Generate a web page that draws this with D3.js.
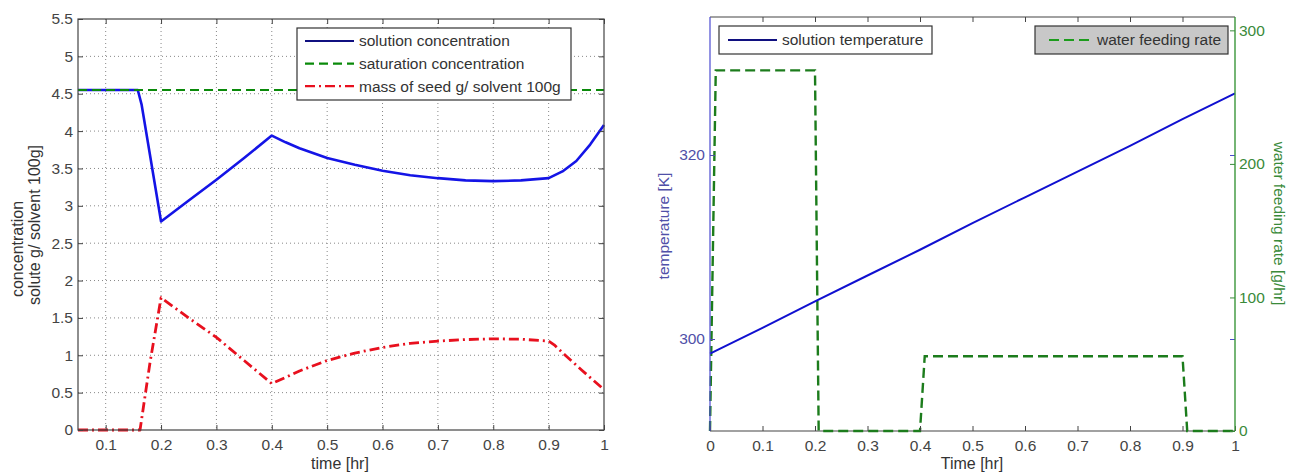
<!DOCTYPE html>
<html><head><meta charset="utf-8">
<script src="https://cdn.jsdelivr.net/npm/d3@7"></script>
<style>
body{margin:0;background:#fff}
text{font-family:"Liberation Sans",Arial,sans-serif}
</style>
</head><body>
<svg id="c" width="1290" height="473"></svg>
<script>
// ---------- Data: left chart ----------
const leftXTicks = [0.1,0.2,0.3,0.4,0.5,0.6,0.7,0.8,0.9,1];
const leftYTicks = [0,0.5,1,1.5,2,2.5,3,3.5,4,4.5,5,5.5];
const concTime   = [0.05,0.1,0.158,0.165,0.2,0.25,0.3,0.35,0.4,0.425,0.45,0.5,0.55,0.6,0.65,0.7,0.75,0.8,0.85,0.9,0.925,0.95,0.975,1.0];
const solutionConc = [4.55,4.55,4.55,4.35,2.79,3.07,3.35,3.64,3.94,3.85,3.77,3.64,3.55,3.47,3.41,3.37,3.34,3.33,3.34,3.37,3.46,3.6,3.82,4.08];
const satTime = [0.05,1.0];
const saturationConc = [4.55,4.55];
const seedTime = [0.05,0.1,0.162,0.18,0.2,0.25,0.3,0.35,0.4,0.45,0.5,0.55,0.6,0.65,0.7,0.75,0.8,0.85,0.9,0.91,0.93,0.96,1.0];
const seedMass = [0,0,0,0.9,1.77,1.5,1.24,0.93,0.62,0.79,0.93,1.03,1.105,1.16,1.19,1.21,1.22,1.215,1.19,1.14,1.0,0.8,0.54];
const leftLegend = ["solution concentration","saturation concentration","mass of seed g/ solvent 100g"];

// ---------- Data: right chart ----------
const rightXTicks = [0,0.1,0.2,0.3,0.4,0.5,0.6,0.7,0.8,0.9,1];
const tempTicks = [300,320];
const rateTicks = [0,100,200,300];
const tempTime = [0,0.1,0.2,0.3,0.4,0.5,0.6,0.7,0.8,0.9,1.0];
const temperature = [298.4,301.2,304.1,306.9,309.7,312.6,315.4,318.2,321.0,323.9,326.7];
const waterTime = [0,0.011,0.2,0.207,0.4,0.409,0.9,0.909,1.0];
const waterRate = [0,270,270,0,0,56,56,0,0];

const svg = d3.select('#c');
svg.append('rect').attr('width',1290).attr('height',473).attr('fill','#fff');
const FONT = 15.5;
const txtCol = '#444';

function styleAxis(g, col){
  g.select('.domain').remove();
  g.selectAll('.tick line').attr('stroke', col || '#444');
  g.selectAll('.tick text').attr('font-size',FONT).attr('fill', col || txtCol)
    .attr('font-family','"Liberation Sans",Arial,sans-serif');
}

// ================= LEFT CHART =================
const L = {x0:78, x1:604, y0:19, y1:430};
const xL = d3.scaleLinear().domain([0.05,1]).range([L.x0,L.x1]);
const yL = d3.scaleLinear().domain([0,5.5]).range([L.y1,L.y0]);

const gGrid = svg.append('g').attr('stroke','#888').attr('stroke-width',1).attr('stroke-dasharray','1,3');
leftXTicks.filter(d=>d<1).forEach(d=>{
  gGrid.append('line').attr('x1',xL(d)).attr('x2',xL(d)).attr('y1',L.y0).attr('y2',L.y1);
});
leftYTicks.filter(d=>d>0 && d<5.5).forEach(d=>{
  gGrid.append('line').attr('y1',yL(d)).attr('y2',yL(d)).attr('x1',L.x0).attr('x2',L.x1);
});

const lineL = d3.line().x(d=>xL(d[0])).y(d=>yL(d[1]));
svg.append('path').datum(concTime.map((t,i)=>[t,solutionConc[i]]))
  .attr('d',lineL).attr('fill','none').attr('stroke','#1414e6').attr('stroke-width',2.6).attr('stroke-linejoin','round');
svg.append('path').datum(satTime.map((t,i)=>[t,saturationConc[i]]))
  .attr('d',lineL).attr('fill','none').attr('stroke','#0a8a0a').attr('stroke-width',2.2).attr('stroke-dasharray','9,5');
svg.append('path').datum(seedTime.map((t,i)=>[t,seedMass[i]]))
  .attr('d',lineL).attr('fill','none').attr('stroke','#e8101e').attr('stroke-width',2.8).attr('stroke-dasharray','10,4,2,4').attr('stroke-linejoin','round');

svg.append('g').attr('transform',`translate(0,${L.y1})`)
  .call(d3.axisBottom(xL).tickValues(leftXTicks).tickFormat(d=>String(d)).tickSize(-5).tickSizeOuter(0).tickPadding(9))
  .call(g=>styleAxis(g));
svg.append('g').attr('transform',`translate(0,${L.y0})`)
  .call(d3.axisTop(xL).tickValues(leftXTicks).tickFormat('').tickSize(-5).tickSizeOuter(0))
  .call(g=>styleAxis(g));
svg.append('g').attr('transform',`translate(${L.x0},0)`)
  .call(d3.axisLeft(yL).tickValues(leftYTicks).tickFormat(d=>String(d)).tickSize(-5).tickSizeOuter(0).tickPadding(5))
  .call(g=>styleAxis(g));
svg.append('g').attr('transform',`translate(${L.x1},0)`)
  .call(d3.axisRight(yL).tickValues(leftYTicks).tickFormat('').tickSize(-5).tickSizeOuter(0))
  .call(g=>styleAxis(g));
svg.append('rect').attr('x',L.x0).attr('y',L.y0).attr('width',L.x1-L.x0).attr('height',L.y1-L.y0)
  .attr('fill','none').attr('stroke','#444').attr('stroke-width',1.2);

const lg = svg.append('g');
lg.append('rect').attr('x',297).attr('y',28).attr('width',274).attr('height',72)
  .attr('fill','#fff').attr('stroke','#333').attr('stroke-width',1.2);
const legStyles = [
  {c:'#101080', w:2.2, da:null},
  {c:'#0a8a0a', w:2.2, da:'9,5'},
  {c:'#e8101e', w:2.2, da:'10,4,2,4'}
];
leftLegend.forEach((t,i)=>{
  const y = 41 + i*22.6;
  lg.append('line').attr('x1',305).attr('x2',354).attr('y1',y).attr('y2',y)
    .attr('stroke',legStyles[i].c).attr('stroke-width',legStyles[i].w).attr('stroke-dasharray',legStyles[i].da);
  lg.append('text').attr('x',359).attr('y',y).attr('dy','0.35em').attr('font-size',FONT).attr('fill','#333').text(t);
});

svg.append('text').attr('x',340).attr('y',469).attr('text-anchor','middle').attr('font-size',16).attr('fill','#333').text('time [hr]');
svg.append('text').attr('transform','translate(22.5,249) rotate(-90)').attr('text-anchor','middle').attr('font-size',16).attr('fill','#333').text('concentration');
svg.append('text').attr('transform','translate(39.5,225) rotate(-90)').attr('text-anchor','middle').attr('font-size',16).attr('fill','#333').text('solute g/ solvent 100g]');

// ================= RIGHT CHART =================
const R = {x0:710, x1:1235, y0:17, y1:431};
const xR = d3.scaleLinear().domain([0,1]).range([R.x0,R.x1]);
const yT = d3.scaleLinear().domain([290,335]).range([R.y1,R.y0]);
const yW = d3.scaleLinear().domain([0,310]).range([R.y1,R.y0]);

const blueAx = '#4a4ad0', greenAx = '#3a963a';
const blueTxt = '#5050a8', greenTxt = '#3a8a3a';

svg.append('line').attr('x1',R.x0).attr('x2',R.x1).attr('y1',R.y0).attr('y2',R.y0).attr('stroke','#444').attr('stroke-width',1.2);
svg.append('line').attr('x1',R.x0).attr('x2',R.x1).attr('y1',R.y1).attr('y2',R.y1).attr('stroke','#444').attr('stroke-width',1.2);

svg.append('path').datum(waterTime.map((t,i)=>[t,waterRate[i]]))
  .attr('d',d3.line().x(d=>xR(d[0])).y(d=>yW(d[1])))
  .attr('fill','none').attr('stroke','#1c7c1c').attr('stroke-width',2.4).attr('stroke-dasharray','10,5');
svg.append('path').datum(tempTime.map((t,i)=>[t,temperature[i]]))
  .attr('d',d3.line().x(d=>xR(d[0])).y(d=>yT(d[1])))
  .attr('fill','none').attr('stroke','#1010d0').attr('stroke-width',2);

svg.append('g').attr('transform',`translate(0,${R.y1})`)
  .call(d3.axisBottom(xR).tickValues(rightXTicks).tickFormat(d=>String(d)).tickSize(-5).tickSizeOuter(0).tickPadding(9))
  .call(g=>styleAxis(g));
svg.append('g').attr('transform',`translate(0,${R.y0})`)
  .call(d3.axisTop(xR).tickValues(rightXTicks.filter(d=>d>0&&d<1)).tickFormat('').tickSize(-5).tickSizeOuter(0))
  .call(g=>styleAxis(g));
svg.append('g').attr('transform',`translate(${R.x0},0)`)
  .call(d3.axisLeft(yT).tickValues(tempTicks).tickFormat(d=>String(d)).tickSize(-5).tickSizeOuter(0).tickPadding(5))
  .call(g=>styleAxis(g, blueTxt));
svg.append('g').attr('transform',`translate(${R.x1},0)`)
  .call(d3.axisLeft(yT).tickValues(tempTicks).tickFormat('').tickSize(5).tickSizeOuter(0))
  .call(g=>styleAxis(g, blueAx));
svg.append('g').attr('transform',`translate(${R.x1},0)`)
  .call(d3.axisRight(yW).tickValues(rateTicks).tickFormat(d=>String(d)).tickSize(-5).tickSizeOuter(0).tickPadding(4))
  .call(g=>styleAxis(g, greenTxt));
svg.append('line').attr('x1',R.x0).attr('x2',R.x0).attr('y1',R.y0).attr('y2',R.y1).attr('stroke',blueAx).attr('stroke-width',1.2);
svg.append('line').attr('x1',R.x1).attr('x2',R.x1).attr('y1',R.y0).attr('y2',R.y1).attr('stroke',greenAx).attr('stroke-width',1.4);

const lg2 = svg.append('g');
lg2.append('rect').attr('x',719).attr('y',26).attr('width',213).attr('height',28).attr('fill','#fff').attr('stroke','#333').attr('stroke-width',1.2);
lg2.append('line').attr('x1',728).attr('x2',777).attr('y1',40).attr('y2',40).attr('stroke','#101080').attr('stroke-width',2.2);
lg2.append('text').attr('x',782).attr('y',40).attr('dy','0.35em').attr('font-size',FONT).attr('fill','#333').text('solution temperature');
lg2.append('rect').attr('x',1035).attr('y',26).attr('width',193).attr('height',28).attr('fill','#c8c8c8').attr('stroke','#333').attr('stroke-width',1.2);
lg2.append('line').attr('x1',1049).attr('x2',1093).attr('y1',40).attr('y2',40).attr('stroke','#1c9c1c').attr('stroke-width',2.2).attr('stroke-dasharray','10,5');
lg2.append('text').attr('x',1097).attr('y',40).attr('dy','0.35em').attr('font-size',FONT).attr('fill','#333').text('water feeding rate');

svg.append('text').attr('x',972).attr('y',469).attr('text-anchor','middle').attr('font-size',16).attr('fill','#333').text('Time [hr]');
svg.append('text').attr('transform','translate(668.5,226) rotate(-90)').attr('text-anchor','middle').attr('font-size',15.5).attr('fill',blueTxt).text('temperature [K]');
svg.append('text').attr('transform','translate(1274,223.5) rotate(90)').attr('text-anchor','middle').attr('font-size',15.5).attr('fill',greenTxt).text('water feeding rate [g/hr]');
</script>
</body></html>
